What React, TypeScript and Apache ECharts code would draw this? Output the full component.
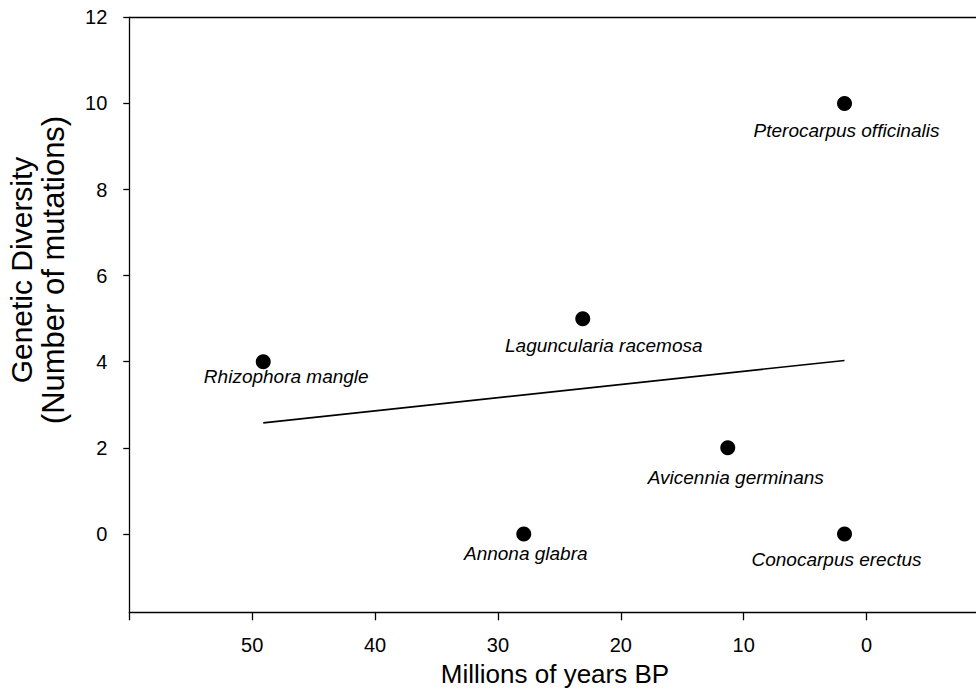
import React, { useEffect, useRef } from "react";
import * as echarts from "echarts";

const species = [
  "Pterocarpus officinalis",
  "Laguncularia racemosa",
  "Rhizophora mangle",
  "Avicennia germinans",
  "Annona glabra",
  "Conocarpus erectus",
];
const ageMya = [1.8, 23.1, 49.1, 11.3, 27.9, 1.8];
const mutations = [10, 5, 4, 2, 0, 0];

const trendX = [49.1, 1.8];
const trendY = [2.58, 4.03];

const xTicks = [0, 10, 20, 30, 40, 50, 60];
const xLabels = [0, 10, 20, 30, 40, 50];
const yTicks = [0, 2, 4, 6, 8, 10, 12];

// label offsets (dx, dy) relative to each point, styling only
const labelOffsets = [
  [2, 27],
  [21, 27],
  [23, 15],
  [8, 30],
  [2, 20],
  [-8, 26],
];

const FONT = "'Liberation Sans', Arial, Helvetica, sans-serif";

export default function App() {
  const ref = useRef<HTMLDivElement>(null);
  useEffect(() => {
    document.body.style.margin = "0";
    const chart = echarts.init(ref.current!, null, { renderer: "svg" });
    const scatterData = species.map((name, i) => ({
      name,
      value: [ageMya[i], mutations[i]],
      label: { offset: labelOffsets[i] },
    }));
    chart.setOption({
      animation: false,
      backgroundColor: "#fff",
      textStyle: { fontFamily: FONT, color: "#000" },
      grid: { left: 129.3, top: 17.3, right: 0, bottom: 77.7, containLabel: false },
      xAxis: [
        {
          type: "value",
          inverse: true,
          min: -8.9,
          max: 60,
          splitLine: { show: false },
          axisLine: { show: true, onZero: false, lineStyle: { color: "#000", width: 1.3 } },
          axisTick: {
            show: true,
            customValues: xTicks,
            length: 8,
            lineStyle: { color: "#000", width: 1.3 },
          },
          axisLabel: {
            customValues: xLabels,
            fontSize: 20,
            color: "#000",
            fontFamily: FONT,
            margin: 23,
          },
        },
        {
          type: "value",
          position: "top",
          inverse: true,
          min: -8.9,
          max: 60,
          splitLine: { show: false },
          axisLine: { show: true, onZero: false, lineStyle: { color: "#000", width: 1.3 } },
          axisTick: { show: false },
          axisLabel: { show: false },
        },
      ],
      yAxis: {
        type: "value",
        min: -1.82,
        max: 12,
        splitLine: { show: false },
        axisLine: { show: true, onZero: false, lineStyle: { color: "#000", width: 1.3 } },
        axisTick: {
          show: true,
          customValues: yTicks,
          length: 6,
          lineStyle: { color: "#000", width: 1.3 },
        },
        axisLabel: {
          customValues: yTicks,
          fontSize: 20,
          color: "#000",
          fontFamily: FONT,
          margin: 22,
        },
      },
      series: [
        {
          type: "line",
          data: trendX.map((x, i) => [x, trendY[i]]),
          showSymbol: false,
          symbol: "none",
          lineStyle: { color: "#000", width: 1.6, opacity: 1 },
          z: 2,
        },
        {
          type: "scatter",
          data: scatterData,
          symbol: "circle",
          symbolSize: 15,
          itemStyle: { color: "#000", opacity: 1 },
          z: 3,
          label: {
            show: true,
            position: "inside",
            formatter: "{b}",
            fontStyle: "italic",
            fontSize: 19,
            color: "#000",
            opacity: 1,
            fontFamily: FONT,
            align: "center",
            verticalAlign: "middle",
          },
        },
      ],
      graphic: [
        {
          type: "text",
          x: 21,
          y: 270,
          rotation: Math.PI / 2,
          style: {
            text: "Genetic Diversity",
            fontSize: 30,
            fontFamily: FONT,
            fill: "#000",
            align: "center",
            verticalAlign: "middle",
          },
        },
        {
          type: "text",
          x: 53,
          y: 270,
          rotation: Math.PI / 2,
          style: {
            text: "(Number of mutations)",
            fontSize: 31,
            fontFamily: FONT,
            fill: "#000",
            align: "center",
            verticalAlign: "middle",
          },
        },
        {
          type: "text",
          x: 555,
          y: 674,
          style: {
            text: "Millions of years BP",
            fontSize: 26,
            fontFamily: FONT,
            fill: "#000",
            align: "center",
            verticalAlign: "middle",
          },
        },
      ],
    });
    return () => chart.dispose();
  }, []);
  return <div ref={ref} style={{ width: 976, height: 690 }} />;
}
